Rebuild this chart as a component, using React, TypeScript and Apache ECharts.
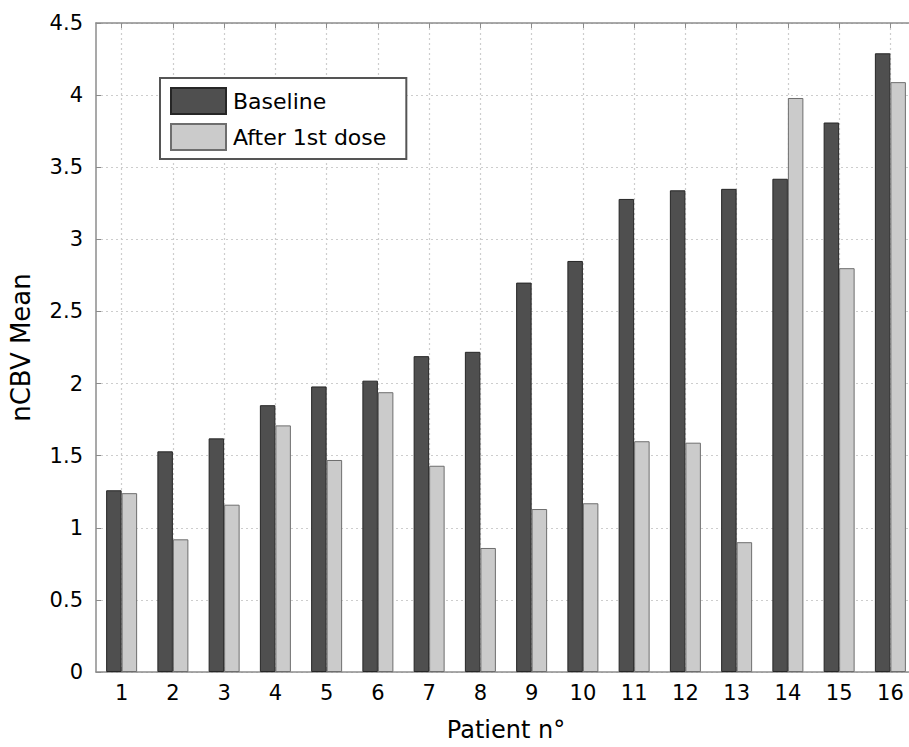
import React, { useEffect, useRef } from "react";
import * as echarts from "echarts";

const patients = ["1", "2", "3", "4", "5", "6", "7", "8", "9", "10", "11", "12", "13", "14", "15", "16"];
const baseline = [1.26, 1.53, 1.62, 1.85, 1.98, 2.02, 2.19, 2.22, 2.7, 2.85, 3.28, 3.34, 3.35, 3.42, 3.81, 4.29];
const afterDose = [1.24, 0.92, 1.16, 1.71, 1.47, 1.94, 1.43, 0.86, 1.13, 1.17, 1.6, 1.59, 0.9, 3.98, 2.8, 4.09];
const seriesNames = ["Baseline", "After 1st dose"];

const FONT = "DejaVu Sans";

export default function App() {
  const ref = useRef<HTMLDivElement>(null);
  useEffect(() => {
    if (!ref.current) return;
    const chart = echarts.init(ref.current, undefined, { renderer: "svg" });
    const axisLineStyle = { color: "#8c8c8c", width: 1.5 };
    const gridLine = { show: true, lineStyle: { color: "#cdcdcd", type: [2, 3] as any, width: 1.2 } };
    chart.setOption({
      animation: false,
      backgroundColor: "#ffffff",
      textStyle: { fontFamily: FONT },
      grid: { left: 95, right: 14, top: 23, bottom: 74, containLabel: false },
      legend: {
        left: 160,
        top: 78,
        orient: "vertical",
        data: seriesNames,
        itemWidth: 55,
        itemHeight: 26,
        itemGap: 8,
        padding: [9, 20, 8, 10],
        backgroundColor: "#ffffff",
        borderColor: "#555555",
        borderWidth: 2,
        borderRadius: 0,
        icon: "rect",
        textStyle: { fontFamily: FONT, fontSize: 22, color: "#000", padding: [0, 0, 0, 2] },
      },
      xAxis: [
        {
          type: "category",
          data: patients,
          position: "bottom",
          name: "Patient n°",
          nameLocation: "middle",
          nameGap: 46,
          nameTextStyle: { fontFamily: FONT, fontSize: 24, color: "#000" },
          axisLine: { show: true, lineStyle: axisLineStyle },
          axisTick: { show: true, inside: true, alignWithLabel: true, length: 5, lineStyle: { color: "#8c8c8c" } },
          axisLabel: { fontFamily: FONT, fontSize: 21, color: "#000", margin: 10, interval: 0 },
          splitLine: { ...gridLine, alignWithLabel: true } as any,
        },
        {
          type: "category",
          data: patients,
          position: "top",
          axisLine: { show: true, lineStyle: axisLineStyle },
          axisTick: { show: true, inside: true, alignWithLabel: true, length: 5, lineStyle: { color: "#8c8c8c" } },
          axisLabel: { show: false },
          splitLine: { show: false },
        },
      ],
      yAxis: {
        type: "value",
        min: 0,
        max: 4.5,
        interval: 0.5,
        name: "nCBV Mean",
        nameLocation: "middle",
        nameGap: 62,
        nameTextStyle: { fontFamily: FONT, fontSize: 26, color: "#000" },
        axisLine: { show: true, lineStyle: axisLineStyle },
        axisTick: { show: true, inside: true, length: 5, lineStyle: { color: "#8c8c8c" } },
        axisLabel: { fontFamily: FONT, fontSize: 21, color: "#000", margin: 13 },
        splitLine: gridLine,
      },
      series: [
        {
          name: seriesNames[0],
          type: "bar",
          xAxisIndex: 0,
          data: baseline,
          barWidth: 15.5,
          barGap: "0%",
          itemStyle: { color: "#4f4f4f", borderColor: "#262626", borderWidth: 1 },
        },
        {
          name: seriesNames[1],
          type: "bar",
          xAxisIndex: 0,
          data: afterDose,
          barWidth: 15.5,
          barGap: "0%",
          itemStyle: { color: "#cbcbcb", borderColor: "#6e6e6e", borderWidth: 1 },
        },
      ],
    });
    return () => chart.dispose();
  }, []);
  return (
    <div
      style={{ position: "fixed", left: 0, top: 0, width: 909, height: 747, overflow: "hidden", background: "#fff" }}
    >
      <div ref={ref} style={{ width: 930, height: 747 }} />
    </div>
  );
}
